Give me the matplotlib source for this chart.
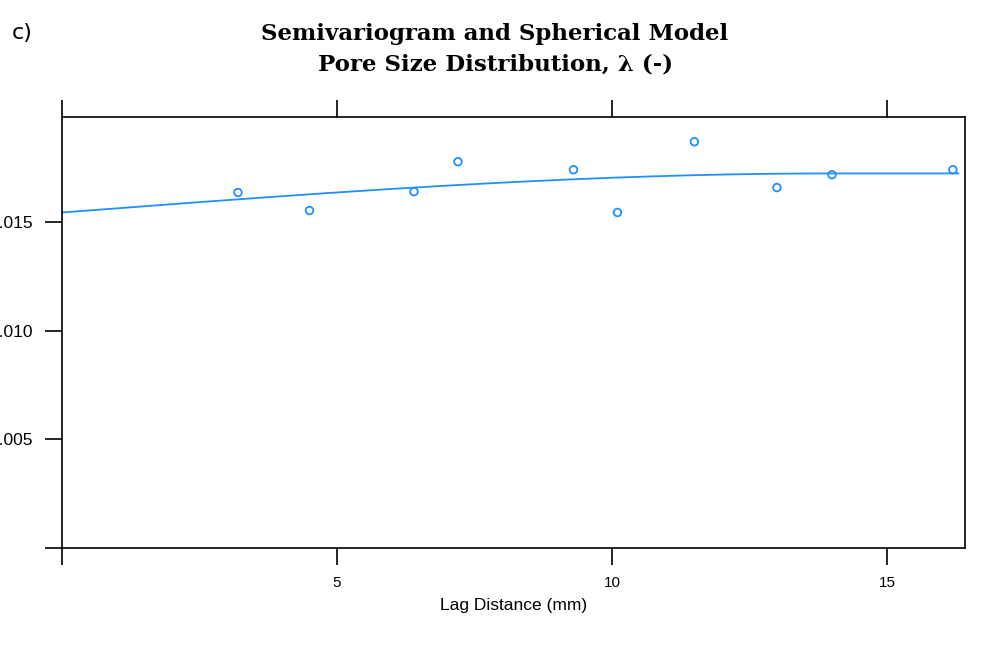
import numpy as np
import matplotlib
matplotlib.use("Agg")
from matplotlib import pyplot as plt

# semivariogram points
lag = [3.2, 4.5, 6.4, 7.2, 9.3, 10.1, 11.5, 13.0, 14.0, 16.2]
gamma = [0.01638, 0.01555, 0.01642, 0.01780, 0.01743, 0.01546, 0.01872, 0.01661, 0.01720, 0.01743]

# spherical model parameters
nugget = 0.01546
psill = 0.00180
rng = 14.0

xticks = [0, 5, 10, 15]
xticklabels = ["", "5", "10", "15"]
yticks = [0, 0.005, 0.010, 0.015]
yticklabels = ["", "0.005", "0.010", "0.015"]

h = np.linspace(0, 16.3, 300)
r = np.minimum(h / rng, 1.0)
model = nugget + psill * (1.5 * r - 0.5 * r ** 3)

fig = plt.figure(figsize=(9.9, 6.45), dpi=100)
ax = fig.add_axes([62 / 990, 97 / 645, 903 / 990, 431 / 645])
col = "#1e90ff"
ax.plot(h, model, color=col, lw=1.3)
ax.scatter(lag, gamma, s=30, facecolors="none", edgecolors=col, linewidths=1.3, zorder=3)

ax.set_xlim(0, 16.42)
ax.set_ylim(0.0001, 0.01986)
ax.set_xticks(xticks)
ax.set_xticklabels(xticklabels, fontsize=11, family="Liberation Sans")
ax.set_yticks(yticks)
ax.set_yticklabels(yticklabels, fontsize=12.5, family="Liberation Sans")
ax.tick_params(direction="out", length=12, width=1.2, top=True, labeltop=False, pad=8)
ax.tick_params(axis="y", pad=9)
for s in ax.spines.values():
    s.set_linewidth(1.2)
ax.set_xlabel("Lag Distance (mm)", fontsize=12.5, family="Liberation Sans", labelpad=6)

fig.text(0.5, 0.965, "Semivariogram and Spherical Model\nPore Size Distribution, λ (-)",
         ha="center", va="top", fontsize=16.5, fontweight="bold", family="DejaVu Serif",
         linespacing=1.55)
fig.text(0.012, 0.965, "c)", ha="left", va="top", fontsize=16, family="DejaVu Sans")

fig.savefig("out.png", dpi=100)
